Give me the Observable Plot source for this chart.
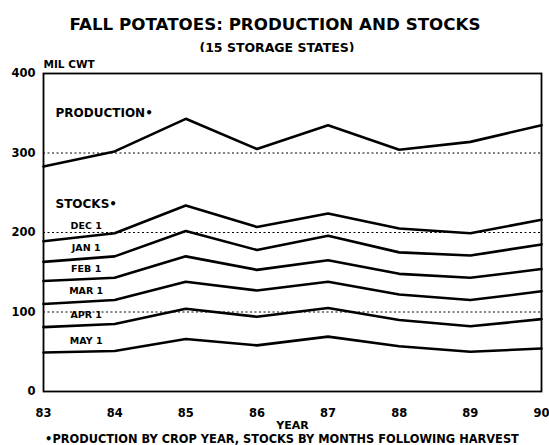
<!DOCTYPE html>
<html><head><meta charset="utf-8">
<script src="https://cdn.jsdelivr.net/npm/d3@7"></script>
<script src="https://cdn.jsdelivr.net/npm/@observablehq/plot@0.6"></script>
<style>
body{margin:0;background:#fff;}
#wrap{position:relative;width:549px;height:445px;overflow:hidden;font-family:"DejaVu Sans",sans-serif;font-weight:bold;color:#000;}
.t{position:absolute;white-space:nowrap;transform:translateX(-50%);margin:0;}
#title{left:275px;top:15.9px;font-size:16.7px;line-height:16.7px;}
#subtitle{left:277px;top:41.9px;font-size:12.5px;line-height:12.5px;}
#chart{position:absolute;left:0;top:52px;}
#foot{left:282px;top:433.5px;font-size:11.4px;line-height:11.4px;}
</style></head>
<body>
<div id="wrap">
  <div class="t" id="title">FALL POTATOES: PRODUCTION AND STOCKS</div>
  <div class="t" id="subtitle">(15 STORAGE STATES)</div>
  <div id="chart"></div>
  <div class="t" id="foot">•PRODUCTION BY CROP YEAR, STOCKS BY MONTHS FOLLOWING HARVEST</div>
</div>
<script>
const years = [83, 84, 85, 86, 87, 88, 89, 90];
const production = [283, 302, 343, 305, 335, 304, 314, 335];
const stockDec1 = [189, 199, 234, 207, 224, 205, 199, 216];
const stockJan1 = [163, 170, 202, 178, 196, 175, 171, 185];
const stockFeb1 = [139, 143, 170, 153, 165, 148, 143, 154];
const stockMar1 = [110, 115, 138, 127, 138, 122, 115, 126];
const stockApr1 = [81, 85, 104, 94, 105, 90, 82, 91];
const stockMay1 = [49, 51, 66, 58, 69, 57, 50, 54];
const stockNames = ["DEC 1", "JAN 1", "FEB 1", "MAR 1", "APR 1", "MAY 1"];
const yTicks = [0, 100, 200, 300, 400];
const gridValues = [100, 200, 300];

const stockSeries = [stockDec1, stockJan1, stockFeb1, stockMar1, stockApr1, stockMay1]
  .map((values, i) => ({name: stockNames[i], values}));
const allSeries = [{name: "PRODUCTION", values: production}, ...stockSeries];
const rows = allSeries.flatMap(s => s.values.map((v, i) => ({series: s.name, year: years[i], value: v})));

const labelPos = 0.6; // fraction of the way from first to second year
const stockLabels = stockSeries.map(s => ({
  name: s.name,
  year: years[0] + labelPos * (years[1] - years[0]),
  value: s.values[0] + labelPos * (s.values[1] - s.values[0])
}));

const plot = Plot.plot({
  width: 549,
  height: 384,
  marginLeft: 43,
  marginRight: 8,
  marginTop: 21,
  marginBottom: 45,
  style: {fontFamily: "DejaVu Sans", fontSize: "11.5px", fontWeight: "bold", color: "#000", background: "#fff", overflow: "visible"},
  x: {domain: [83, 90]},
  y: {domain: [0, 400]},
  marks: [
    Plot.ruleY(gridValues, {stroke: "#000", strokeWidth: 1, strokeDasharray: "2,2.5"}),
    Plot.frame({stroke: "#000", strokeWidth: 1.8}),
    Plot.axisY({ticks: yTicks, tickSize: 0, tickPadding: 8, label: null}),
    Plot.axisX({ticks: years, tickSize: 0, tickPadding: 17, tickFormat: d => String(d), label: null}),
    Plot.line(rows, {x: "year", y: "value", z: "series", stroke: "#000", strokeWidth: 2.6, strokeLinejoin: "miter"}),
    Plot.text(stockLabels, {x: "year", y: "value", text: "name", dy: -10.5, fontSize: 9.5, textAnchor: "middle"}),
    Plot.text(["PRODUCTION•"], {x: () => years[0], y: () => production[0], dx: 12, dy: -53.5, textAnchor: "start", fontSize: 12}),
    Plot.text(["STOCKS•"], {x: () => years[0], y: () => stockDec1[0], dx: 12, dy: -37, textAnchor: "start", fontSize: 12}),
    Plot.text(["MIL CWT"], {frameAnchor: "top-left", dy: -13, textAnchor: "start", fontSize: 10.5}),
    Plot.text(["YEAR"], {frameAnchor: "bottom", dy: 37, fontSize: 11})
  ]
});
document.getElementById("chart").appendChild(plot);
</script>
</body></html>
